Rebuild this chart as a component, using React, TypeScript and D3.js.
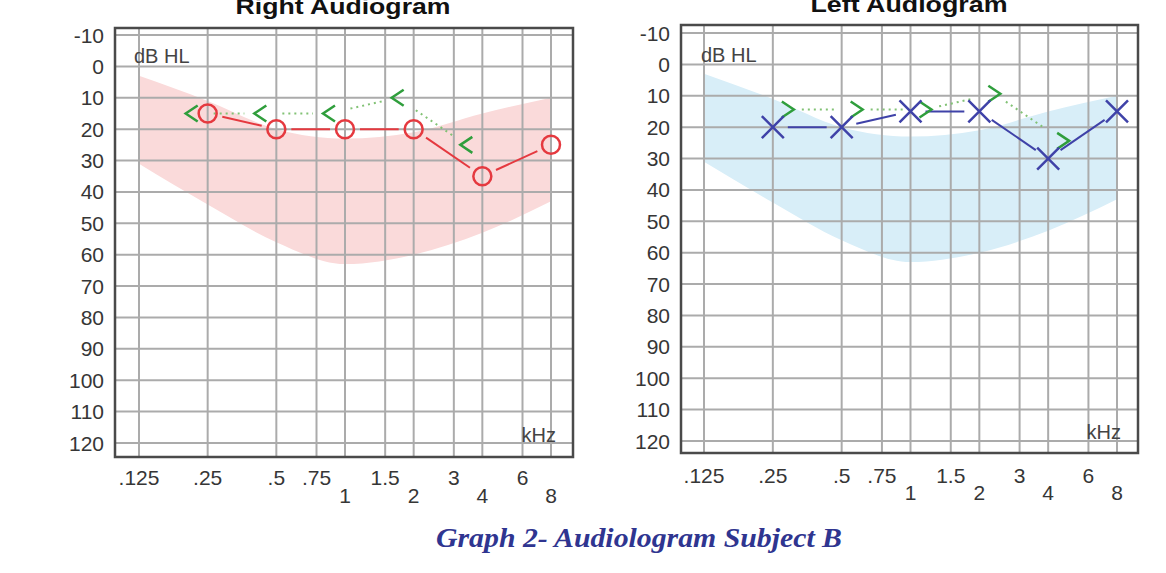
import React from 'react';
import * as d3 from 'd3';

// ---- Data ----
const freqTicks = [0.125, 0.25, 0.5, 0.75, 1, 1.5, 2, 3, 4, 6, 8];
const freqTopLabels = ['.125', '.25', '.5', '.75', '', '1.5', '', '3', '', '6', ''];
const freqBottomLabels = ['', '', '', '', '1', '', '2', '', '4', '', '8'];
const dbTicks = [-10, 0, 10, 20, 30, 40, 50, 60, 70, 80, 90, 100, 110, 120];

// "speech banana" band
const bandFreq = [0.125, 0.25, 0.5, 1, 2, 4, 8];
const bandTop = [3, 11, 20, 23, 21, 15, 10];
const bandBottom = [31, 44, 56, 63, 60, 53, 43];

// Right ear
const rightAirFreq = [0.25, 0.5, 1, 2, 4, 8];
const rightAirDb = [15, 20, 20, 20, 35, 25];
const rightBoneFreq = [0.25, 0.5, 1, 2, 4];
const rightBoneDb = [15, 15, 15, 10, 25];

// Left ear
const leftAirFreq = [0.25, 0.5, 1, 2, 4, 8];
const leftAirDb = [20, 20, 15, 15, 30, 15];
const leftBoneFreq = [0.25, 0.5, 1, 2, 4];
const leftBoneDb = [15, 15, 15, 10, 25];

const FONT = "'Liberation Sans', Arial, Helvetica, sans-serif";

type Pt = [number, number];

function trimSeg(a: Pt, b: Pt, t1: number, t2: number): [Pt, Pt] | null {
  const dx = b[0] - a[0];
  const dy = b[1] - a[1];
  const len = Math.hypot(dx, dy);
  if (len <= t1 + t2) return null;
  const ux = dx / len, uy = dy / len;
  return [
    [a[0] + ux * t1, a[1] + uy * t1],
    [b[0] - ux * t2, b[1] - uy * t2],
  ];
}

interface PanelCfg {
  title: string;
  titleX: number;
  titleY: number;
  titleLen: number;
  fx0: number; fx1: number; fy0: number; fy1: number; // frame
  x0: number; x1: number; y0: number; y1: number; // scale ranges
  labelRight: number;
  topLabelY: number;
  bottomLabelY: number;
  dbhlX: number; dbhlY: number;
  khzX: number; khzY: number;
  bandColor: string;
  ear: 'right' | 'left';
}

function Panel({ cfg }: { cfg: PanelCfg }) {
  const x = d3.scaleLog().base(2).domain([0.125, 8]).range([cfg.x0, cfg.x1]);
  const y = d3.scaleLinear().domain([-10, 120]).range([cfg.y0, cfg.y1]);

  const bandData = bandFreq.map((f, i) => ({ f, top: bandTop[i], bot: bandBottom[i] }));
  const area = d3
    .area<{ f: number; top: number; bot: number }>()
    .x((d) => x(d.f))
    .y0((d) => y(d.bot))
    .y1((d) => y(d.top))
    .curve(d3.curveMonotoneX);

  const isRight = cfg.ear === 'right';
  const airF = isRight ? rightAirFreq : leftAirFreq;
  const airD = isRight ? rightAirDb : leftAirDb;
  const boneF = isRight ? rightBoneFreq : leftBoneFreq;
  const boneD = isRight ? rightBoneDb : leftBoneDb;
  const airColor = isRight ? '#e5393f' : '#3f42a8';
  const boneColor = '#2f9e3c';
  const dotColor = '#82c275';

  const airPts: Pt[] = airF.map((f, i) => [x(f), y(airD[i])]);
  const boneDx = isRight ? -16 : 15;
  const boneDy = isRight ? 0 : -2;
  const bonePts: Pt[] = boneF.map((f, i) => [x(f) + boneDx, y(boneD[i]) + boneDy]);

  const airSegs = airPts.slice(1).map((p, i) => trimSeg(airPts[i], p, 15, 15));
  const boneSegs = bonePts
    .slice(1)
    .map((p, i) => trimSeg(bonePts[i], p, isRight ? 22 : 14, isRight ? 16 : 22));

  const cw = cfg.fx1 - cfg.fx0;
  const ch = cfg.fy1 - cfg.fy0;

  return (
    <g>
      <text
        x={cfg.titleX}
        y={cfg.titleY}
        textAnchor="middle"
        fontFamily={FONT}
        fontWeight="bold"
        fontSize={22}
        fill="#111"
        textLength={cfg.titleLen}
        lengthAdjust="spacingAndGlyphs"
      >
        {cfg.title}
      </text>
      <rect x={cfg.fx0} y={cfg.fy0} width={cw} height={ch} fill="#fff" />
      <path d={area(bandData) || ''} fill={cfg.bandColor} />
      {/* grid */}
      {dbTicks.map((d) => (
        <line key={'h' + d} x1={cfg.fx0} x2={cfg.fx1} y1={y(d)} y2={y(d)} stroke="#ababab" strokeWidth={2} />
      ))}
      {freqTicks.map((f) => (
        <line key={'v' + f} x1={x(f)} x2={x(f)} y1={cfg.fy0} y2={cfg.fy1} stroke="#ababab" strokeWidth={2} />
      ))}
      <rect x={cfg.fx0} y={cfg.fy0} width={cw} height={ch} fill="none" stroke="#4a4a4a" strokeWidth={2.5} />

      {/* y labels */}
      {dbTicks.map((d) => (
        <text key={'yl' + d} x={cfg.labelRight} y={y(d)} dy="0.36em" textAnchor="end" fontFamily={FONT} fontSize={21} fill="#363636">
          {d}
        </text>
      ))}
      {/* x labels */}
      {freqTicks.map((f, i) => (
        <g key={'xl' + f}>
          {freqTopLabels[i] && (
            <text x={x(f)} y={cfg.topLabelY} textAnchor="middle" fontFamily={FONT} fontSize={21} fill="#363636">
              {freqTopLabels[i]}
            </text>
          )}
          {freqBottomLabels[i] && (
            <text x={x(f)} y={cfg.bottomLabelY} textAnchor="middle" fontFamily={FONT} fontSize={21} fill="#363636">
              {freqBottomLabels[i]}
            </text>
          )}
        </g>
      ))}
      <text x={cfg.dbhlX} y={cfg.dbhlY} fontFamily={FONT} fontSize={20} fill="#444">dB HL</text>
      <text x={cfg.khzX} y={cfg.khzY} textAnchor="end" fontFamily={FONT} fontSize={20} fill="#444">kHz</text>

      {/* bone conduction dotted line */}
      {boneSegs.map((s, i) =>
        s ? (
          <line key={'bs' + i} x1={s[0][0]} y1={s[0][1]} x2={s[1][0]} y2={s[1][1]} stroke={dotColor} strokeWidth={2} strokeDasharray="2,4" />
        ) : null
      )}
      {/* air conduction line */}
      {airSegs.map((s, i) =>
        s ? (
          <line key={'as' + i} x1={s[0][0]} y1={s[0][1]} x2={s[1][0]} y2={s[1][1]} stroke={airColor} strokeWidth={2} />
        ) : null
      )}
      {/* bone markers */}
      {bonePts.map((p, i) => (
        <path
          key={'bm' + i}
          transform={`translate(${p[0]},${p[1]})`}
          d={isRight ? 'M6,-8L-6,0L6,8' : 'M-6,-8L6,0L-6,8'}
          fill="none"
          stroke={boneColor}
          strokeWidth={2.5}
        />
      ))}
      {/* air markers */}
      {airPts.map((p, i) =>
        isRight ? (
          <circle key={'am' + i} cx={p[0]} cy={p[1]} r={9} fill="none" stroke={airColor} strokeWidth={2.5} />
        ) : (
          <path
            key={'am' + i}
            transform={`translate(${p[0]},${p[1]})`}
            d="M-11,-11L11,11M-11,11L11,-11"
            fill="none"
            stroke={airColor}
            strokeWidth={2.5}
          />
        )
      )}
    </g>
  );
}

const rightCfg: PanelCfg = {
  title: 'Right Audiogram',
  titleX: 343, titleY: 14, titleLen: 215,
  fx0: 115, fx1: 573, fy0: 28, fy1: 457,
  x0: 139, x1: 551, y0: 35, y1: 443,
  labelRight: 104,
  topLabelY: 485, bottomLabelY: 503,
  dbhlX: 134, dbhlY: 63,
  khzX: 556, khzY: 442,
  bandColor: '#fadada',
  ear: 'right',
};

const leftCfg: PanelCfg = {
  title: 'Left Audiogram',
  titleX: 909, titleY: 12, titleLen: 197,
  fx0: 681, fx1: 1138, fy0: 25, fy1: 453,
  x0: 704, x1: 1117, y0: 33, y1: 441,
  labelRight: 670,
  topLabelY: 483, bottomLabelY: 500,
  dbhlX: 701, dbhlY: 62,
  khzX: 1121, khzY: 439,
  bandColor: '#d8eef8',
  ear: 'left',
};

export default function App() {
  return (
    <svg
      width={1166}
      height={573}
      style={{ position: 'absolute', left: 0, top: 0, background: '#fff' }}
    >
      <rect x={0} y={0} width={1166} height={573} fill="#fff" />
      <Panel cfg={rightCfg} />
      <Panel cfg={leftCfg} />
      <text
        x={639}
        y={547}
        textAnchor="middle"
        fontFamily="'Liberation Serif', 'Times New Roman', serif"
        fontWeight="bold"
        fontStyle="italic"
        fontSize={28}
        fill="#2f3590"
        textLength={406}
        lengthAdjust="spacingAndGlyphs"
      >
        Graph 2- Audiologram Subject B
      </text>
    </svg>
  );
}
